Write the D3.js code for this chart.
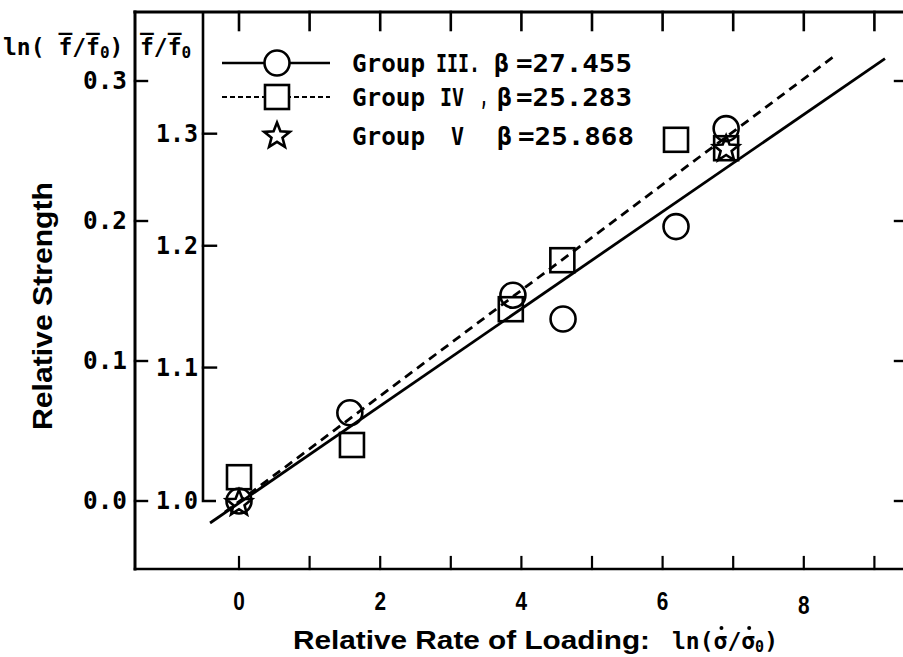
<!DOCTYPE html>
<html>
<head>
<meta charset="utf-8">
<script src="https://cdn.jsdelivr.net/npm/d3@7"></script>
<style>
  html, body { margin: 0; padding: 0; background: #fff; }
  svg { display: block; }
</style>
</head>
<body>
<svg id="chart" width="903" height="657"></svg>
<script>
// ---------- data ----------
const xTicks = [0, 1, 2, 3, 4, 5, 6, 7, 8, 9];
const xTickLabels = [0, 2, 4, 6, 8];
const lnTicks = [0.0, 0.1, 0.2, 0.3];
const ratioTicks = [1.0, 1.1, 1.2, 1.3];

const group3X = [0, 1.57, 3.88, 4.59, 6.19, 6.9];
const group3Y = [0.0, 0.063, 0.147, 0.130, 0.196, 0.266];

const group4X = [0, 1.6, 3.85, 4.58, 6.19, 6.9];
const group4Y = [0.017, 0.040, 0.137, 0.172, 0.258, 0.252];

const group5X = [0, 6.9];
const group5Y = [-0.001, 0.252];

const fit3X = [-0.41, 9.15];
const fit3Y = [-0.0157, 0.316];
const fit4X = [-0.2, 8.41];
const fit4Y = [-0.008, 0.317];

const legendLabels = [
  ["Group", "III.", "\u03B2", "=27.455"],
  ["Group", "IV", ",", "\u03B2", "=25.283"],
  ["Group", "V", "\u03B2", "=25.868"]
];

// ---------- scales ----------
const svg = d3.select("#chart");
const x = d3.scaleLinear().domain([0, 8]).range([239, 239 + 8 * 70.6]);
const y = d3.scaleLinear().domain([0, 0.3]).range([501, 81]);

const LEFT = 135, INNER = 203, TOP = 12, BOTTOM = 569, RIGHT = 903;
const mono = "'DejaVu Sans Mono', 'Liberation Mono', monospace";
const sans = "'Liberation Sans', Arial, sans-serif";

// ---------- frame ----------
const frame = svg.append("g").attr("stroke", "#000").attr("fill", "none").attr("stroke-linecap", "square");
frame.append("line").attr("x1", LEFT).attr("x2", LEFT).attr("y1", TOP).attr("y2", BOTTOM).attr("stroke-width", 3);
frame.append("line").attr("x1", LEFT).attr("x2", RIGHT).attr("y1", TOP).attr("y2", TOP).attr("stroke-width", 3.2);
frame.append("line").attr("x1", LEFT).attr("x2", RIGHT).attr("y1", BOTTOM).attr("y2", BOTTOM).attr("stroke-width", 2.6);
frame.append("path")
  .attr("d", `M${INNER},${TOP}V${y(0)}H${INNER + 13}`)
  .attr("stroke-width", 2.6).attr("stroke-linecap", "butt");

frame.selectAll(".tt").data(xTicks).join("line")
  .attr("x1", d => x(d)).attr("x2", d => x(d))
  .attr("y1", TOP).attr("y2", TOP + 18).attr("stroke-width", 2.6);
frame.selectAll(".bt").data(xTicks).join("line")
  .attr("x1", d => x(d)).attr("x2", d => x(d))
  .attr("y1", BOTTOM).attr("y2", BOTTOM - 12).attr("stroke-width", 2.2);

frame.selectAll(".lt").data(lnTicks).join("line")
  .attr("x1", LEFT).attr("x2", LEFT + 12)
  .attr("y1", d => y(d)).attr("y2", d => y(d)).attr("stroke-width", 2.4);
frame.selectAll(".rt").data(lnTicks).join("line")
  .attr("x1", RIGHT - 8).attr("x2", RIGHT)
  .attr("y1", d => y(d)).attr("y2", d => y(d)).attr("stroke-width", 2.4);
frame.selectAll(".it").data(ratioTicks.slice(1)).join("line")
  .attr("x1", INNER).attr("x2", INNER + 13)
  .attr("y1", d => y(Math.log(d))).attr("y2", d => y(Math.log(d))).attr("stroke-width", 2.4);

// ---------- tick labels ----------
svg.selectAll(".lnl").data(lnTicks).join("text")
  .attr("x", 127).attr("y", d => y(d) + 8)
  .attr("text-anchor", "end").attr("font-family", mono).attr("font-size", 24).attr("font-weight", "bold")
  .attr("textLength", 44).attr("lengthAdjust", "spacingAndGlyphs")
  .text(d => d.toFixed(1));
svg.selectAll(".rl").data(ratioTicks).join("text")
  .attr("x", 198).attr("y", d => y(Math.log(d)) + 8)
  .attr("text-anchor", "end").attr("font-family", mono).attr("font-size", 24).attr("font-weight", "bold")
  .attr("textLength", 42).attr("lengthAdjust", "spacingAndGlyphs")
  .text(d => d.toFixed(1));
svg.selectAll(".xl").data(xTickLabels).join("text")
  .attr("x", d => x(d)).attr("y", d => 610 + (d === 8 ? 4 : 0))
  .attr("text-anchor", "middle").attr("font-family", sans).attr("font-weight", "bold")
  .attr("font-size", 26)
  .attr("transform", d => `translate(${x(d)},0) scale(0.8,1) translate(${-x(d)},0)`)
  .text(d => d);

// ---------- headers ----------
const h1 = svg.append("text").attr("x", 3).attr("y", 55).attr("font-family", mono)
  .attr("font-size", 23).attr("font-weight", "bold");
h1.append("tspan").text("ln( ");
h1.append("tspan").text("f\u0305");
h1.append("tspan").text("/");
h1.append("tspan").text("f\u0305");
h1.append("tspan").attr("font-size", 16).attr("dy", 3).text("0");
h1.append("tspan").attr("dy", -3).text(")");

const h2 = svg.append("text").attr("x", 140).attr("y", 55).attr("font-family", mono)
  .attr("font-size", 23).attr("font-weight", "bold");
h2.append("tspan").text("f\u0305");
h2.append("tspan").text("/");
h2.append("tspan").text("f\u0305");
h2.append("tspan").attr("font-size", 16).attr("dy", 3).text("0");

// ---------- axis titles ----------
svg.append("text")
  .attr("transform", "translate(52,306) rotate(-90)")
  .attr("text-anchor", "middle").attr("font-family", sans).attr("font-weight", "bold")
  .attr("font-size", 27).attr("textLength", 248).attr("lengthAdjust", "spacingAndGlyphs")
  .text("Relative Strength");

svg.append("text").attr("x", 293).attr("y", 649)
  .attr("font-family", sans).attr("font-weight", "bold").attr("font-size", 26)
  .attr("textLength", 357).attr("lengthAdjust", "spacingAndGlyphs")
  .text("Relative Rate of Loading:");
const xt2 = svg.append("text").attr("x", 672).attr("y", 649)
  .attr("font-family", mono).attr("font-weight", "bold").attr("font-size", 23);
xt2.append("tspan").text("ln(\u03C3/\u03C3");
xt2.append("tspan").attr("font-size", 15).attr("dy", 3).text("0");
xt2.append("tspan").attr("dy", -3).text(")");
const xtNode = xt2.node();
[3, 5].forEach(ci => {
  const ext = xtNode.getExtentOfChar(ci);
  svg.append("circle").attr("cx", ext.x + ext.width / 2 + 1).attr("cy", 628).attr("r", 2)
    .attr("fill", "#000");
});

// ---------- fit lines ----------
const line = d3.line().x(d => x(d[0])).y(d => y(d[1]));
svg.append("path").datum(d3.zip(fit3X, fit3Y)).attr("d", line)
  .attr("fill", "none").attr("stroke", "#000").attr("stroke-width", 2.8);
svg.append("path").datum(d3.zip(fit4X, fit4Y)).attr("d", line)
  .attr("fill", "none").attr("stroke", "#000").attr("stroke-width", 2.8)
  .attr("stroke-dasharray", "9,6");

// ---------- markers ----------
function starPath(R, r) {
  const pts = [];
  for (let i = 0; i < 10; i++) {
    const a = -Math.PI / 2 + i * Math.PI / 5;
    const rad = i % 2 === 0 ? R : r;
    pts.push([rad * Math.cos(a), rad * Math.sin(a)]);
  }
  return "M" + pts.map(p => p.join(",")).join("L") + "Z";
}
const mk = svg.append("g").attr("fill", "none").attr("stroke", "#000").attr("stroke-width", 2.6);
mk.selectAll(".c").data(d3.zip(group3X, group3Y)).join("circle")
  .attr("cx", d => x(d[0])).attr("cy", d => y(d[1])).attr("r", 12.5);
mk.selectAll(".s").data(d3.zip(group4X, group4Y)).join("rect")
  .attr("x", d => x(d[0]) - 12).attr("y", d => y(d[1]) - 12)
  .attr("width", 24).attr("height", 24);
mk.selectAll(".st").data(d3.zip(group5X, group5Y)).join("path")
  .attr("transform", d => `translate(${x(d[0])},${y(d[1]) + 1})`)
  .attr("d", starPath(13.5, 5.8));

// ---------- legend ----------
const lg = svg.append("g");
const rows = [63, 97, 136];
lg.append("line").attr("x1", 222).attr("x2", 330).attr("y1", rows[0]).attr("y2", rows[0])
  .attr("stroke", "#000").attr("stroke-width", 2.6);
lg.append("circle").attr("cx", 277).attr("cy", rows[0]).attr("r", 12.5)
  .attr("fill", "#fff").attr("stroke", "#000").attr("stroke-width", 2.6);
lg.append("line").attr("x1", 222).attr("x2", 330).attr("y1", rows[1]).attr("y2", rows[1])
  .attr("stroke", "#000").attr("stroke-width", 2.2).attr("stroke-dasharray", "5,3");
lg.append("rect").attr("x", 265).attr("y", rows[1] - 12).attr("width", 24).attr("height", 24)
  .attr("fill", "#fff").attr("stroke", "#000").attr("stroke-width", 2.6);
lg.append("path").attr("transform", `translate(277,${rows[2]})`).attr("d", starPath(13.5, 5.8))
  .attr("fill", "none").attr("stroke", "#000").attr("stroke-width", 2.6);

const partPos = [
  [[352, 73], [436, 44], [494, 15], [516, 116]],
  [[352, 73], [440, 24], [480, 8], [497, 15], [516, 116]],
  [[352, 73], [451, 13], [497, 15], [518, 116]]
];
legendLabels.forEach((row, i) => {
  row.forEach((t, j) => {
    lg.append("text").attr("x", partPos[i][j][0]).attr("y", rows[i] + 9)
      .attr("font-family", mono).attr("font-size", 24).attr("font-weight", "bold")
      .attr("textLength", partPos[i][j][1]).attr("lengthAdjust", "spacingAndGlyphs")
      .text(t);
  });
});
</script>
</body>
</html>
